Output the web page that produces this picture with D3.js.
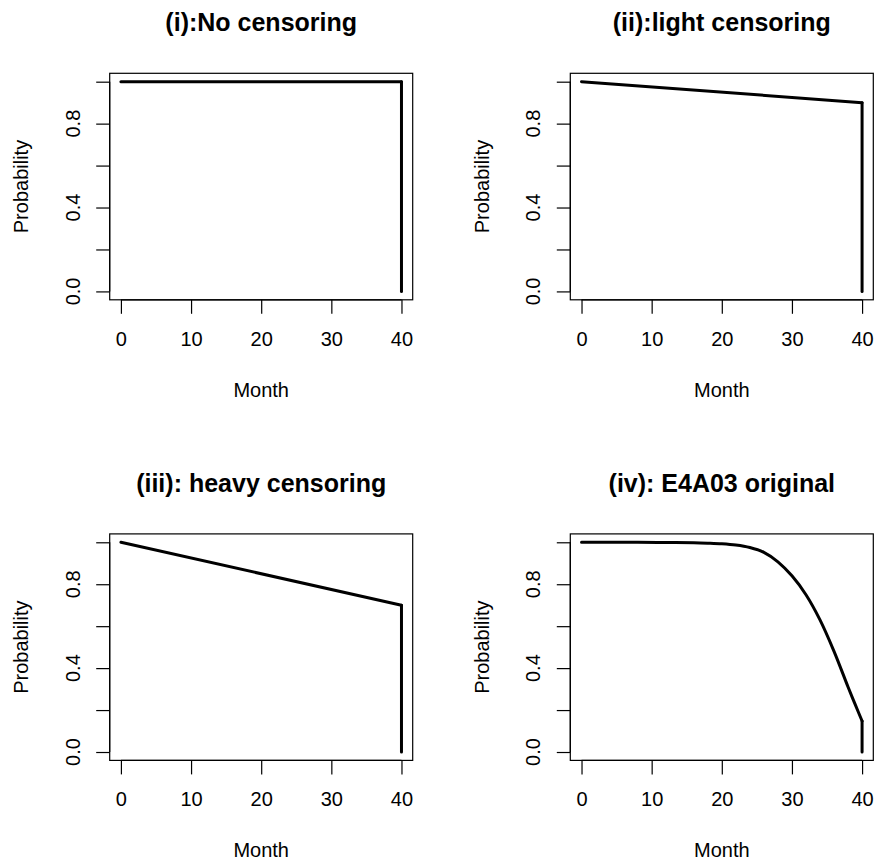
<!DOCTYPE html>
<html>
<head>
<meta charset="utf-8">
<script src="https://cdn.jsdelivr.net/npm/d3@7"></script>
<style>
  body { margin: 0; background: #fff; }
  svg text { font-family: "Liberation Sans", Arial, Helvetica, sans-serif; fill: #000; }
</style>
</head>
<body>
<div id="chart"></div>
<script>
        // survival curves
        const panelTitles = ["(i):No censoring", "(ii):light censoring", "(iii): heavy censoring", "(iv): E4A03 original"];

        const months1 = [0, 40, 40];
        const prob1 = [1, 1, 0];

        const months2 = [0, 40, 40];
        const prob2 = [1, 0.9, 0];

        const months3 = [0, 40, 40];
        const prob3 = [1, 0.7, 0];

        const months4 = [0, 4, 8, 12, 16, 18, 20, 22, 24, 26, 28, 30, 32, 34, 36, 38, 39, 40, 40];
        const prob4 = [1, 1, 1, 0.999, 0.998, 0.996, 0.993, 0.987, 0.975, 0.952, 0.907, 0.84, 0.75, 0.63, 0.48, 0.31, 0.228, 0.148, 0];

        const xTicks = [0, 10, 20, 30, 40];
        const yTicks = [0, 0.2, 0.4, 0.6, 0.8, 1.0];
        const yLabels = [0, 0.4, 0.8];

        const xLabel = "Month";
        const yLabel = "Probability";

        const width = 878;
        const height = 865;

        const svg = d3.select("#chart").append("svg")
            .attr("width", width)
            .attr("height", height);

        const boxW = 303;
        const boxH = 226.5;
        const step = 460.6;
        const left0 = 109.7;
        const top0 = 73.3;

        const series = [
            { months: months1, prob: prob1 },
            { months: months2, prob: prob2 },
            { months: months3, prob: prob3 },
            { months: months4, prob: prob4 }
        ];

        function drawPanel(i) {
            const col = i % 2;
            const row = Math.floor(i / 2);
            const left = left0 + col * step;
            const top = top0 + row * step;
            const bottom = top + boxH;

            // R style 4% padding on both axes
            const x = d3.scaleLinear().domain([-1.6, 41.6]).range([left, left + boxW]);
            const y = d3.scaleLinear().domain([-0.04, 1.04]).range([bottom, top]);

            const g = svg.append("g");

            g.append("rect")
                .attr("x", left).attr("y", top)
                .attr("width", boxW).attr("height", boxH)
                .attr("fill", "none")
                .attr("stroke", "#000")
                .attr("stroke-width", 1.2);

            // x axis
            const xAxis = g.append("g")
                .attr("transform", `translate(0,${bottom})`)
                .call(d3.axisBottom(x).tickValues(xTicks).tickSize(14).tickSizeOuter(0));
            xAxis.select(".domain").remove();
            xAxis.selectAll(".tick line").attr("stroke", "#000").attr("stroke-width", 1.2);
            xAxis.selectAll(".tick text")
                .attr("y", 46).attr("dy", null)
                .attr("font-size", 20);
            g.append("line")
                .attr("x1", x(xTicks[0])).attr("x2", x(xTicks[xTicks.length - 1]))
                .attr("y1", bottom).attr("y2", bottom)
                .attr("stroke", "#000").attr("stroke-width", 1.2);

            // y axis
            const yAxis = g.append("g")
                .attr("transform", `translate(${left},0)`)
                .call(d3.axisLeft(y).tickValues(yTicks).tickSize(13.5).tickSizeOuter(0).tickFormat(""));
            yAxis.select(".domain").remove();
            yAxis.selectAll(".tick line").attr("stroke", "#000").attr("stroke-width", 1.2);
            g.append("line")
                .attr("x1", left).attr("x2", left)
                .attr("y1", y(0)).attr("y2", y(1))
                .attr("stroke", "#000").attr("stroke-width", 1.2);

            g.selectAll(".ylab")
                .data(yLabels)
                .join("text")
                .attr("class", "ylab")
                .attr("transform", d => `translate(${left - 30},${y(d)}) rotate(-90)`)
                .attr("text-anchor", "middle")
                .attr("font-size", 20)
                .text(d => d3.format(".1f")(d));

            // titles and axis names
            g.append("text")
                .attr("x", left + boxW / 2)
                .attr("y", top - 42)
                .attr("text-anchor", "middle")
                .attr("font-size", 25)
                .attr("font-weight", "bold")
                .text(panelTitles[i]);

            g.append("text")
                .attr("x", left + boxW / 2)
                .attr("y", bottom + 97)
                .attr("text-anchor", "middle")
                .attr("font-size", 20)
                .text(xLabel);

            g.append("text")
                .attr("transform", `translate(${left - 81.5},${top + boxH / 2}) rotate(-90)`)
                .attr("text-anchor", "middle")
                .attr("font-size", 20)
                .text(yLabel);

            // survival curve, then the drop to zero at the last month
            const pts = series[i].months.map((m, k) => [m, series[i].prob[k]]);
            const curvePts = pts.slice(0, -1);
            const dropPts = pts.slice(-2);

            const line = d3.line()
                .x(d => x(d[0]))
                .y(d => y(d[1]))
                .curve(d3.curveCatmullRom.alpha(0.5));

            g.append("path")
                .attr("d", line(curvePts))
                .attr("fill", "none")
                .attr("stroke", "#000")
                .attr("stroke-width", 3)
                .attr("stroke-linecap", "round")
                .attr("stroke-linejoin", "round");

            g.append("path")
                .attr("d", d3.line().x(d => x(d[0])).y(d => y(d[1]))(dropPts))
                .attr("fill", "none")
                .attr("stroke", "#000")
                .attr("stroke-width", 3)
                .attr("stroke-linecap", "round");
        }

        for (let i = 0; i < 4; i++) drawPanel(i);
</script>
</body>
</html>
